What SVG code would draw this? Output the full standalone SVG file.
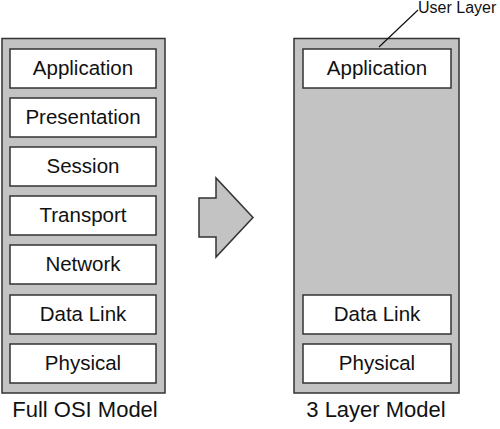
<svg xmlns="http://www.w3.org/2000/svg" width="500" height="429" viewBox="0 0 500 429">
<style>
.outer{fill:#c3c3c3;stroke:#333;stroke-width:1.5}
.box{fill:#fff;stroke:#333;stroke-width:1.5}
.lbl{font-family:"Liberation Sans",Arial,sans-serif;font-size:20.5px;fill:#111;text-anchor:middle}
.cap{font-family:"Liberation Sans",Arial,sans-serif;font-size:22px;fill:#111;text-anchor:middle}
.note{font-family:"Liberation Sans",Arial,sans-serif;font-size:16px;fill:#111}
</style>
<g id="osi-model">
<rect class="outer" x="2" y="38.5" width="163" height="354.5"/>
</g>
<g id="osi-application"><rect class="box" x="10" y="49" width="146" height="39"/><text class="lbl" x="83" y="75">Application</text></g>
<g id="osi-presentation"><rect class="box" x="10" y="98" width="146" height="39"/><text class="lbl" x="83" y="124">Presentation</text></g>
<g id="osi-session"><rect class="box" x="10" y="147" width="146" height="39"/><text class="lbl" x="83" y="173">Session</text></g>
<g id="osi-transport"><rect class="box" x="10" y="196" width="146" height="39"/><text class="lbl" x="83" y="222">Transport</text></g>
<g id="osi-network"><rect class="box" x="10" y="245" width="146" height="39"/><text class="lbl" x="83" y="271">Network</text></g>
<g id="osi-datalink"><rect class="box" x="10" y="295" width="146" height="39"/><text class="lbl" x="83" y="321">Data Link</text></g>
<g id="osi-physical"><rect class="box" x="10" y="344" width="146" height="39"/><text class="lbl" x="83" y="370">Physical</text></g>
<text class="cap" x="85" y="417">Full OSI Model</text>

<g id="three-layer-model">
<rect class="outer" x="294" y="38.5" width="165" height="354.5"/>
</g>
<g id="tl-application"><rect class="box" x="303" y="49" width="148" height="39"/><text class="lbl" x="377" y="75">Application</text></g>
<g id="tl-datalink"><rect class="box" x="303" y="295" width="148" height="39"/><text class="lbl" x="377" y="321">Data Link</text></g>
<g id="tl-physical"><rect class="box" x="303" y="344" width="148" height="39"/><text class="lbl" x="377" y="370">Physical</text></g>
<text class="cap" x="376" y="417">3 Layer Model</text>

<g id="arrow">
<polygon points="199,198 216,198 216,178 253,217.5 216,257 216,237 199,237" fill="#c3c3c3" stroke="#333" stroke-width="1.5" stroke-linejoin="miter"/>
</g>
<g id="connectors">
<line x1="379" y1="47" x2="418" y2="10" stroke="#111" stroke-width="1.2"/>
</g>
<text class="note" x="418" y="13">User Layer</text>
</svg>
